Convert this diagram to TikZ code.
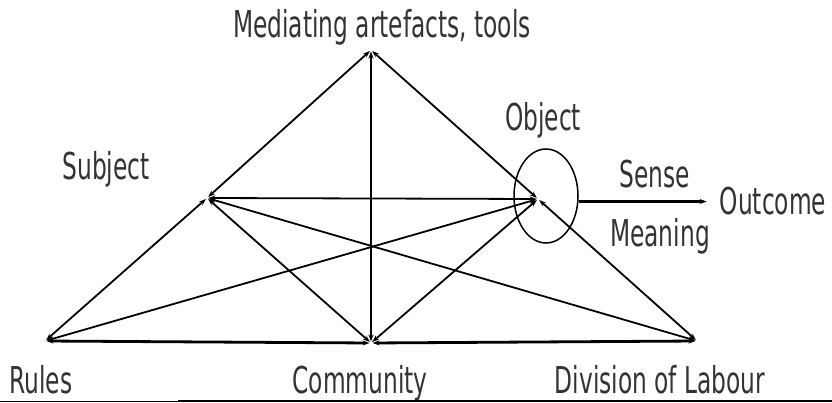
\documentclass[tikz,border=0pt]{standalone}
\usepackage{fontspec}
\setmainfont{DejaVu Sans}[FakeStretch=0.63]
\usetikzlibrary{arrows.meta,shapes.geometric}
\begin{document}
\begin{tikzpicture}[x=1pt,y=-1pt,
  lbl/.style={font=\fontsize{37}{39}\selectfont, text=black!80, inner sep=0pt, anchor=base},
  tip/.tip={Stealth[length=7pt,width=5pt]},
  link/.style={line width=1.8pt, tip-tip, shorten <=1.5pt, shorten >=1.5pt},
  baseline/.style={link, line width=2.8pt},
  ring/.style={ellipse, draw, line width=1.5pt, minimum width=64pt, minimum height=94pt, inner sep=0pt}]
\useasboundingbox (0,0) rectangle (832,403);
% corner points
\coordinate (M) at (371,50);
\coordinate (S) at (207,198);
\coordinate (O) at (538,199);
\coordinate (R) at (45,341);
\coordinate (C) at (371,343);
\coordinate (D) at (697,341);
% labels
\node[lbl] (lm) at (382,38) {Mediating artefacts, tools};
\node[lbl] (ls) at (106,180) {Subject};
\node[lbl] (lo) at (543,131) {Object};
\node[lbl] (lse) at (655,188) {Sense};
\node[lbl] (lme) at (660,247) {Meaning};
\node[lbl] (lout) at (773,215) {Outcome};
\node[lbl] (lr) at (41,393) {Rules};
\node[lbl] (lc) at (360,393) {Community};
\node[lbl] (ld) at (660,393) {Division of Labour};
% object ring
\node[ring] (objring) at (546,196) {};
% connectors
\draw[link] (S) -- (M);
\draw[link] (O) -- (M);
\draw[link] (C) -- (M);
\draw[link] (R) -- (S);
\draw[link] (S) -- (O);
\draw[link] (S) -- (C);
\draw[link] (S) -- (D);
\draw[link] (R) -- (O);
\draw[link] (O) -- (C);
\draw[link] (O) -- (D);
\draw[baseline] (R) -- (C);
\draw[baseline] (C) -- (D);
\coordinate (outend) at ([xshift=-13pt]lout.west);
\draw[line width=2.8pt, -tip] (outend -| objring.east) -- (outend);
% bottom rule
\coordinate (r0) at (0,401);
\coordinate (r1) at (178,401);
\coordinate (r2) at (832,401);
\draw[line width=1pt] (r0) -- (r1);
\draw[line width=1.8pt] (r1) -- (r2);
\end{tikzpicture}
\end{document}
